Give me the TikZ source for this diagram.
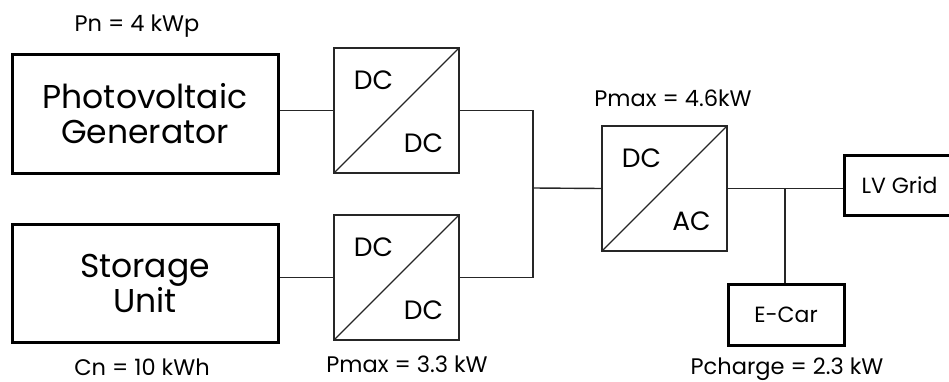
\documentclass[tikz,border=0pt]{standalone}
\usepackage{fontspec}
\setmainfont{Poppins}
\usepackage{tikz}
\usetikzlibrary{positioning,calc}
\definecolor{boxgray}{gray}{0.15}
\tikzset{
  unit/.style={draw=black, line width=3pt, minimum width=266pt, minimum height=118pt,
    align=center, font=\fontsize{33}{35}\selectfont, inner sep=0pt},
  conv/.style={draw=boxgray, line width=1.4pt, minimum width=125pt, minimum height=125pt,
    inner sep=0pt, path picture={\draw[boxgray, line width=1.2pt]
      (path picture bounding box.south west) -- (path picture bounding box.north east);}},
  load/.style={draw=black, line width=3pt, inner sep=0pt, font=\fontsize{22}{24}\selectfont},
  convtext/.style={font=\fontsize{26.5}{28}\selectfont},
  info/.style={font=\fontsize{22.5}{24}\selectfont},
  wire/.style={draw=boxgray, line width=1.4pt}
}
\begin{document}
\begin{tikzpicture}[x=1pt, y=-1pt]
    \useasboundingbox (0,0) rectangle (949,382);
    % Sources
    \node[unit] (pv) at (145,114) {Photovoltaic\\Generator};
    \node[unit] (st) at (145,283) {Storage\\Unit};
    \node[info] (pn) at (137,26) {Pn = 4 kWp};
    \node[info] (cn) at (142,367) {Cn = 10 kWh};
    % DC/DC converters
    \node[conv] (dcA) at (396.5,110.5) {};
    \node[convtext] (dcAin) at ($(dcA)+(-23,-30)$) {DC};
    \node[convtext] (dcAout) at ($(dcA)+(27,33)$) {DC};
    \node[conv] (dcB) at (396.5,277.5) {};
    \node[convtext] (dcBin) at ($(dcB)+(-23,-30)$) {DC};
    \node[convtext] (dcBout) at ($(dcB)+(27,33)$) {DC};
    \node[info] (pmaxB) at (407,364) {Pmax = 3.3 kW};
    % Inverter
    \node[conv] (inv) at (664.5,188.5) {};
    \node[convtext] (invin) at ($(inv)+(-23,-30)$) {DC};
    \node[convtext] (invout) at ($(inv)+(27,33)$) {AC};
    \node[info] (pmaxI) at (673,98) {Pmax = 4.6kW};
    % Loads
    \node[load, minimum width=111pt, minimum height=59pt] (grid) at (899.5,185.5) {LV Grid};
    \node[load, minimum width=116pt, minimum height=61pt] (car) at (786,314.5) {E-Car};
    \node[info] (pch) at (787,369) {Pcharge = 2.3 kW};
    % Wiring
    \coordinate (bus) at (533,188);
    \coordinate (tap) at (785,188);
    \draw[wire] (dcA.west) -- (dcA.west -| pv.east);
    \draw[wire] (dcB.west) -- (dcB.west -| st.east);
    \draw[wire] (dcA.east) -| (bus) |- (dcB.east);
    \draw[wire] (bus) -- (inv.west);
    \draw[wire] (inv.east) -- (inv.east -| grid.west);
    \draw[wire] (tap) -- (tap |- car.north);
\end{tikzpicture}
\end{document}
